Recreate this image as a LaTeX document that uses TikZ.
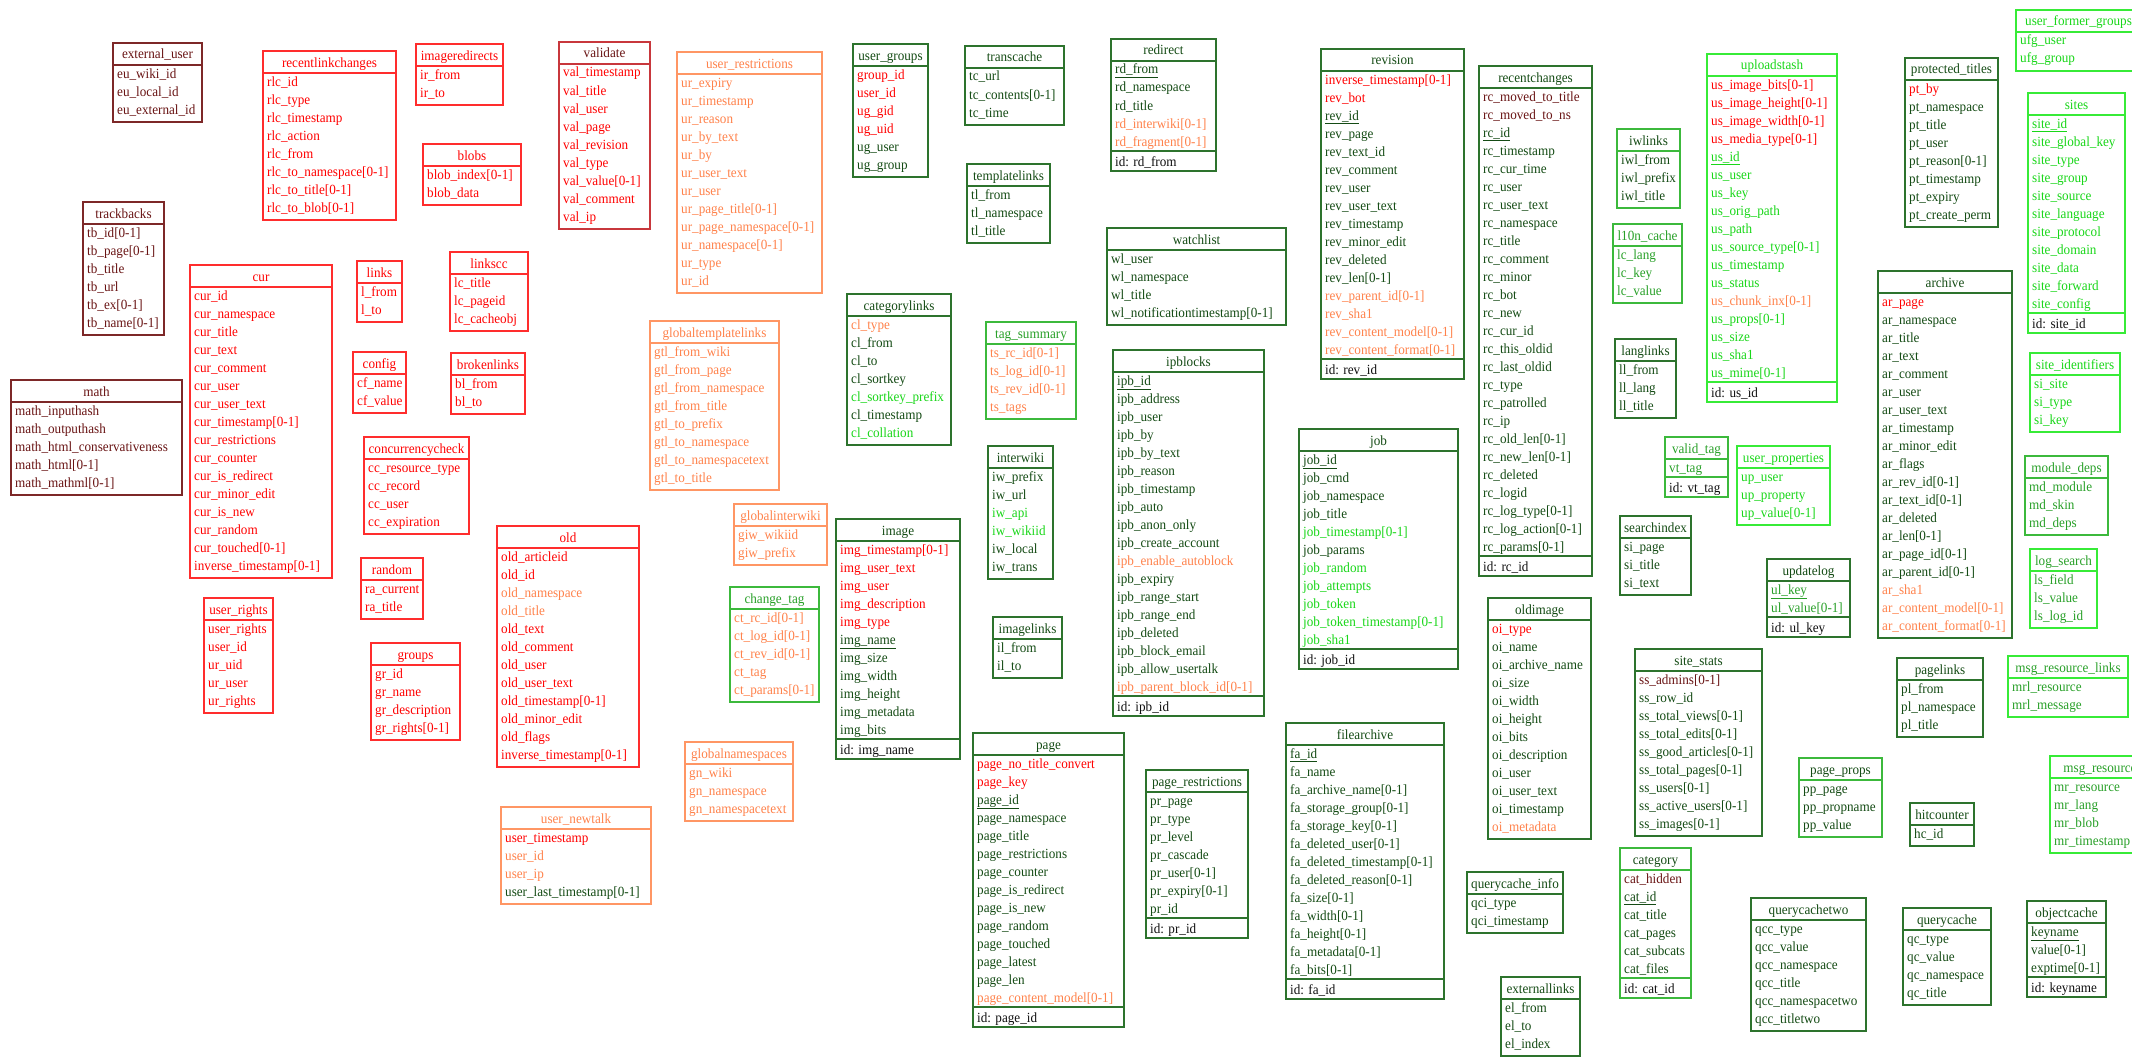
\documentclass[tikz,border=0pt]{standalone}
\usepackage{fontspec}
\setmainfont{Liberation Serif}[FakeStretch=0.94]

% border colours (b..) and text colours (t..)
\definecolor{bR}{RGB}{255,45,45}
\definecolor{tR}{RGB}{255,0,0}
\definecolor{bW}{RGB}{125,40,40}
\definecolor{tW}{RGB}{105,20,20}
\definecolor{bV}{RGB}{200,55,60}
\definecolor{bO}{RGB}{255,150,100}
\definecolor{tO}{RGB}{255,130,75}
\definecolor{bD}{RGB}{45,115,45}
\definecolor{tD}{RGB}{20,75,20}
\definecolor{bG}{RGB}{55,235,55}
\definecolor{tG}{RGB}{25,215,25}
\definecolor{bM}{RGB}{60,185,60}
\definecolor{tM}{RGB}{40,160,40}
\definecolor{tK}{RGB}{15,15,15}

\newcommand\cR{\color{tR}}
\newcommand\cO{\color{tO}}
\newcommand\cD{\color{tD}}
\newcommand\cG{\color{tG}}
\newcommand\cM{\color{tM}}
\newcommand\cW{\color{tW}}
\newcommand\pk[1]{\underline{#1}}
\newcommand\tabfont{\fontsize{14}{18}\selectfont}

\tikzset{
  tabframe/.style={draw, line width=1.5pt, anchor=north west, inner sep=0pt, outer sep=0pt},
  tabline/.style={line width=1.3pt},
  tabtitle/.style={anchor=base, inner sep=0pt, font=\tabfont},
  tabrow/.style={anchor=base west, inner sep=0pt, font=\tabfont},
}

% \dbtable{name}{x}{y}{width}{border colour}{text colour}{title}{fields}{id field}
\newcommand\dbtable[9]{%
  \node[tabtitle, text=#6] (#1-title) at ({#2+#4/2}, #3+16) {#7};
  \foreach \rt [count=\ri] in {#8} {
    \node[tabrow, text=#6] (#1-\ri) at (#2+4, #3+17+18*\ri) {\rt};
    \xdef\nrows{\ri}
  }
  \draw[tabline, draw=#5] (#2, #3+22) -- (#2+#4, #3+22);
  \pgfmathsetmacro\ysep{#3+22+18*\nrows}
  \if\relax\detokenize{#9}\relax
    \pgfmathsetmacro\ybot{\ysep+3}
  \else
    \pgfmathsetmacro\ybot{\ysep+20}
    \draw[tabline, draw=#5] (#2, \ysep) -- (#2+#4, \ysep);
    \node[tabrow, text=tK] (#1-id) at (#2+4, \ysep+15) {id: #9};
  \fi
  \node[tabframe, draw=#5, minimum width=#4, minimum height={\ybot-#3}] (#1) at (#2,#3) {};
}

\begin{document}
\catcode`\_=12
\begin{tikzpicture}[x=1pt, y=-1pt]
\useasboundingbox (0,0) rectangle (2132,1057);
\fill[white] (0,0) rectangle (2132,1057);
\clip (0,0) rectangle (2132,1057);

% legacy / removed tables
\dbtable{external_user}{113}{43}{89}{bW}{tW}{external_user}{eu_wiki_id, eu_local_id, eu_external_id}{}
\dbtable{recentlinkchanges}{263}{51}{133}{bR}{tR}{recentlinkchanges}{rlc_id, rlc_type, rlc_timestamp, rlc_action, rlc_from, rlc_to_namespace[0-1], rlc_to_title[0-1], rlc_to_blob[0-1]}{}
\dbtable{imageredirects}{416}{44}{87}{bR}{tR}{imageredirects}{ir_from, ir_to}{}
\dbtable{blobs}{423}{144}{98}{bR}{tR}{blobs}{blob_index[0-1], blob_data}{}
\dbtable{trackbacks}{83}{202}{81}{bW}{tW}{trackbacks}{tb_id[0-1], tb_page[0-1], tb_title, tb_url, tb_ex[0-1], tb_name[0-1]}{}
\dbtable{cur}{190}{265}{142}{bR}{tR}{cur}{cur_id, cur_namespace, cur_title, cur_text, cur_comment, cur_user, cur_user_text, cur_timestamp[0-1], cur_restrictions, cur_counter, cur_is_redirect, cur_minor_edit, cur_is_new, cur_random, cur_touched[0-1], inverse_timestamp[0-1]}{}
\dbtable{links}{357}{261}{45}{bR}{tR}{links}{l_from, l_to}{}
\dbtable{linkscc}{450}{252}{78}{bR}{tR}{linkscc}{lc_title, lc_pageid, lc_cacheobj}{}
\dbtable{math}{11}{380}{171}{bW}{tW}{math}{math_inputhash, math_outputhash, math_html_conservativeness, math_html[0-1], math_mathml[0-1]}{}
\dbtable{config}{353}{352}{53}{bR}{tR}{config}{cf_name, cf_value}{}
\dbtable{brokenlinks}{451}{353}{74}{bR}{tR}{brokenlinks}{bl_from, bl_to}{}
\dbtable{concurrencycheck}{364}{437}{105}{bR}{tR}{concurrencycheck}{cc_resource_type, cc_record, cc_user, cc_expiration}{}
\dbtable{random}{361}{558}{62}{bR}{tR}{random}{ra_current, ra_title}{}
\dbtable{user_rights}{204}{598}{69}{bR}{tR}{user_rights}{user_rights, user_id, ur_uid, ur_user, ur_rights}{}
\dbtable{groups}{371}{643}{89}{bR}{tR}{groups}{gr_id, gr_name, gr_description, gr_rights[0-1]}{}
\dbtable{old}{497}{526}{142}{bR}{tR}{old}{old_articleid, old_id, \cO old_namespace, \cO old_title, old_text, old_comment, old_user, old_user_text, old_timestamp[0-1], old_minor_edit, old_flags, inverse_timestamp[0-1]}{}
\dbtable{user_newtalk}{501}{807}{150}{bO}{tO}{user_newtalk}{\cR user_timestamp, user_id, user_ip, \cD user_last_timestamp[0-1]}{}
\dbtable{validate}{559}{42}{91}{bV}{tR}{\cW validate}{val_timestamp, val_title, val_user, val_page, val_revision, val_type, val_value[0-1], val_comment, val_ip}{}
\dbtable{user_restrictions}{677}{52}{145}{bO}{tO}{user_restrictions}{ur_expiry, ur_timestamp, ur_reason, ur_by_text, ur_by, ur_user_text, ur_user, ur_page_title[0-1], ur_page_namespace[0-1], ur_namespace[0-1], ur_type, ur_id}{}

% current schema
\dbtable{user_groups}{853}{44}{75}{bD}{tD}{user_groups}{\cR group_id, \cR user_id, \cR ug_gid, \cR ug_uid, ug_user, ug_group}{}
\dbtable{transcache}{965}{46}{99}{bD}{tD}{transcache}{tc_url, tc_contents[0-1], tc_time}{}
\dbtable{templatelinks}{967}{164}{83}{bD}{tD}{templatelinks}{tl_from, tl_namespace, tl_title}{}
\dbtable{categorylinks}{847}{294}{104}{bD}{tD}{categorylinks}{\cO cl_type, cl_from, cl_to, cl_sortkey, \cG cl_sortkey_prefix, cl_timestamp, \cG cl_collation}{}
\dbtable{globaltemplatelinks}{650}{321}{129}{bO}{tO}{globaltemplatelinks}{gtl_from_wiki, gtl_from_page, gtl_from_namespace, gtl_from_title, gtl_to_prefix, gtl_to_namespace, gtl_to_namespacetext, gtl_to_title}{}
\dbtable{tag_summary}{986}{322}{90}{bM}{tO}{\cM tag_summary}{ts_rc_id[0-1], ts_log_id[0-1], ts_rev_id[0-1], ts_tags}{}
\dbtable{redirect}{1111}{39}{105}{bD}{tD}{redirect}{\pk{rd_from}, rd_namespace, rd_title, \cO rd_interwiki[0-1], \cO rd_fragment[0-1]}{rd_from}
\dbtable{watchlist}{1107}{228}{179}{bD}{tD}{watchlist}{wl_user, wl_namespace, wl_title, wl_notificationtimestamp[0-1]}{}
\dbtable{revision}{1321}{49}{143}{bD}{tD}{revision}{\cR inverse_timestamp[0-1], \cR rev_bot, \pk{rev_id}, rev_page, rev_text_id, rev_comment, rev_user, rev_user_text, rev_timestamp, rev_minor_edit, rev_deleted, rev_len[0-1], \cO rev_parent_id[0-1], \cO rev_sha1, \cO rev_content_model[0-1], \cO rev_content_format[0-1]}{rev_id}
\dbtable{recentchanges}{1479}{66}{113}{bD}{tD}{recentchanges}{\cW rc_moved_to_title, \cW rc_moved_to_ns, \pk{rc_id}, rc_timestamp, rc_cur_time, rc_user, rc_user_text, rc_namespace, rc_title, rc_comment, rc_minor, rc_bot, rc_new, rc_cur_id, rc_this_oldid, rc_last_oldid, rc_type, rc_patrolled, rc_ip, rc_old_len[0-1], rc_new_len[0-1], rc_deleted, rc_logid, rc_log_type[0-1], rc_log_action[0-1], rc_params[0-1]}{rc_id}
\dbtable{iwlinks}{1617}{129}{63}{bM}{tD}{iwlinks}{iwl_from, iwl_prefix, iwl_title}{}
\dbtable{l10n_cache}{1613}{224}{69}{bM}{tM}{l10n_cache}{lc_lang, lc_key, lc_value}{}
\dbtable{langlinks}{1615}{339}{61}{bD}{tD}{langlinks}{ll_from, ll_lang, ll_title}{}
\dbtable{uploadstash}{1707}{54}{130}{bG}{tG}{uploadstash}{\cR us_image_bits[0-1], \cR us_image_height[0-1], \cR us_image_width[0-1], \cR us_media_type[0-1], \pk{us_id}, us_user, us_key, us_orig_path, us_path, us_source_type[0-1], us_timestamp, us_status, \cO us_chunk_inx[0-1], us_props[0-1], us_size, us_sha1, us_mime[0-1]}{us_id}
\dbtable{protected_titles}{1905}{58}{93}{bD}{tD}{protected_titles}{\cR pt_by, pt_namespace, pt_title, pt_user, pt_reason[0-1], pt_timestamp, pt_expiry, pt_create_perm}{}
\dbtable{user_former_groups}{2016}{10}{125}{bG}{tG}{user_former_groups}{ufg_user, ufg_group}{}
\dbtable{sites}{2028}{93}{97}{bG}{tG}{sites}{\pk{site_id}, site_global_key, site_type, site_group, site_source, site_language, site_protocol, site_domain, site_data, site_forward, site_config}{site_id}
\dbtable{archive}{1878}{271}{134}{bD}{tD}{archive}{\cR ar_page, ar_namespace, ar_title, ar_text, ar_comment, ar_user, ar_user_text, ar_timestamp, ar_minor_edit, ar_flags, ar_rev_id[0-1], ar_text_id[0-1], ar_deleted, ar_len[0-1], ar_page_id[0-1], ar_parent_id[0-1], \cO ar_sha1, \cO ar_content_model[0-1], \cO ar_content_format[0-1]}{}
\dbtable{site_identifiers}{2030}{353}{90}{bG}{tG}{site_identifiers}{si_site, si_type, si_key}{}
\dbtable{valid_tag}{1665}{437}{63}{bM}{tM}{valid_tag}{\pk{vt_tag}}{vt_tag}
\dbtable{user_properties}{1737}{446}{93}{bG}{tG}{user_properties}{up_user, up_property, up_value[0-1]}{}
\dbtable{searchindex}{1620}{516}{71}{bD}{tD}{searchindex}{si_page, si_title, si_text}{}
\dbtable{updatelog}{1767}{559}{83}{bD}{tD}{updatelog}{\cM\pk{ul_key}, \cM ul_value[0-1]}{ul_key}
\dbtable{module_deps}{2025}{456}{83}{bM}{tM}{module_deps}{md_module, md_skin, md_deps}{}
\dbtable{log_search}{2030}{549}{67}{bG}{tM}{log_search}{ls_field, ls_value, ls_log_id}{}
\dbtable{site_stats}{1635}{649}{127}{bD}{tD}{site_stats}{\cW ss_admins[0-1], ss_row_id, ss_total_views[0-1], ss_total_edits[0-1], ss_good_articles[0-1], ss_total_pages[0-1], ss_users[0-1], ss_active_users[0-1], ss_images[0-1]}{}
\dbtable{pagelinks}{1897}{658}{86}{bD}{tD}{pagelinks}{pl_from, pl_namespace, pl_title}{}
\dbtable{msg_resource_links}{2008}{656}{120}{bG}{tM}{msg_resource_links}{mrl_resource, mrl_message}{}
\dbtable{page_props}{1799}{758}{83}{bM}{tD}{page_props}{pp_page, pp_propname, pp_value}{}
\dbtable{hitcounter}{1910}{803}{64}{bD}{tD}{hitcounter}{hc_id}{}
\dbtable{msg_resource}{2050}{756}{100}{bG}{tM}{msg_resource}{mr_resource, mr_lang, mr_blob, mr_timestamp}{}
\dbtable{category}{1620}{848}{71}{bM}{tD}{category}{\cW cat_hidden, \pk{cat_id}, cat_title, cat_pages, cat_subcats, cat_files}{cat_id}
\dbtable{querycachetwo}{1751}{898}{115}{bD}{tD}{querycachetwo}{qcc_type, qcc_value, qcc_namespace, qcc_title, qcc_namespacetwo, qcc_titletwo}{}
\dbtable{querycache}{1903}{908}{88}{bD}{tD}{querycache}{qc_type, qc_value, qc_namespace, qc_title}{}
\dbtable{objectcache}{2027}{901}{79}{bD}{tD}{objectcache}{\pk{keyname}, value[0-1], exptime[0-1]}{keyname}
\dbtable{page_restrictions}{1146}{770}{102}{bD}{tD}{page_restrictions}{pr_page, pr_type, pr_level, pr_cascade, pr_user[0-1], pr_expiry[0-1], \pk{pr_id}}{pr_id}
\dbtable{filearchive}{1286}{723}{158}{bD}{tD}{filearchive}{\pk{fa_id}, fa_name, fa_archive_name[0-1], fa_storage_group[0-1], fa_storage_key[0-1], fa_deleted_user[0-1], fa_deleted_timestamp[0-1], fa_deleted_reason[0-1], fa_size[0-1], fa_width[0-1], fa_height[0-1], fa_metadata[0-1], fa_bits[0-1]}{fa_id}
\dbtable{querycache_info}{1467}{872}{96}{bD}{tD}{querycache_info}{qci_type, qci_timestamp}{}
\dbtable{externallinks}{1501}{977}{79}{bD}{tD}{externallinks}{el_from, el_to, el_index}{}
\dbtable{ipblocks}{1113}{350}{151}{bD}{tD}{ipblocks}{\pk{ipb_id}, ipb_address, ipb_user, ipb_by, ipb_by_text, ipb_reason, ipb_timestamp, ipb_auto, ipb_anon_only, ipb_create_account, \cO ipb_enable_autoblock, ipb_expiry, ipb_range_start, ipb_range_end, ipb_deleted, ipb_block_email, ipb_allow_usertalk, \cO ipb_parent_block_id[0-1]}{ipb_id}
\dbtable{job}{1299}{429}{159}{bD}{tD}{job}{\pk{job_id}, job_cmd, job_namespace, job_title, \cG job_timestamp[0-1], job_params, \cG job_random, \cG job_attempts, \cG job_token, \cG job_token_timestamp[0-1], \cG job_sha1}{job_id}
\dbtable{oldimage}{1488}{598}{103}{bD}{tD}{oldimage}{\cR oi_type, oi_name, oi_archive_name, oi_size, oi_width, oi_height, oi_bits, oi_description, oi_user, oi_user_text, oi_timestamp, \cO oi_metadata}{}
\dbtable{interwiki}{988}{446}{65}{bD}{tD}{interwiki}{iw_prefix, iw_url, \cG iw_api, \cG iw_wikiid, iw_local, iw_trans}{}
\dbtable{globalinterwiki}{734}{504}{93}{bO}{tO}{globalinterwiki}{giw_wikiid, giw_prefix}{}
\dbtable{change_tag}{730}{587}{89}{bM}{tO}{\cM change_tag}{ct_rc_id[0-1], ct_log_id[0-1], ct_rev_id[0-1], ct_tag, ct_params[0-1]}{}
\dbtable{image}{836}{519}{124}{bD}{tD}{image}{\cR img_timestamp[0-1], \cR img_user_text, \cR img_user, \cR img_description, \cR img_type, \pk{img_name}, img_size, img_width, img_height, img_metadata, img_bits}{img_name}
\dbtable{imagelinks}{993}{617}{69}{bD}{tD}{imagelinks}{il_from, il_to}{}
\dbtable{globalnamespaces}{685}{742}{108}{bO}{tO}{globalnamespaces}{gn_wiki, gn_namespace, gn_namespacetext}{}
\dbtable{page}{973}{733}{151}{bD}{tD}{page}{\cR page_no_title_convert, \cR page_key, \pk{page_id}, page_namespace, page_title, page_restrictions, page_counter, page_is_redirect, page_is_new, page_random, page_touched, page_latest, page_len, \cO page_content_model[0-1]}{page_id}
\end{tikzpicture}
\end{document}
